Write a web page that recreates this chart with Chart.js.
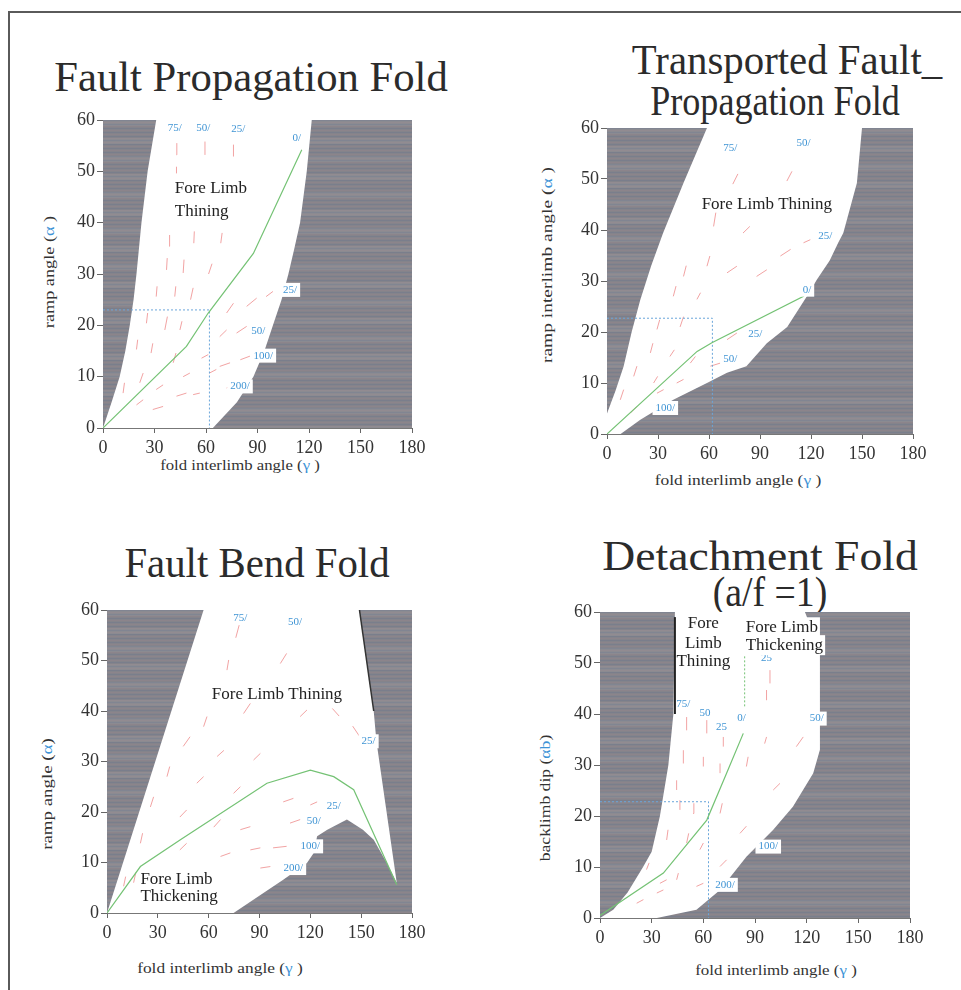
<!DOCTYPE html>
<html>
<head>
<meta charset="utf-8">
<script src="https://cdn.jsdelivr.net/npm/chart.js@4"></script>
<style>
  body { margin: 0; background: #fff; }
  #page { position: relative; width: 961px; height: 990px; overflow: hidden; background: #fff; }
  #frame { position: absolute; left: 8px; top: 11px; width: 1000px; height: 1000px;
           border-top: 2px solid #5a5a5a; border-left: 2px solid #5a5a5a; }
  canvas { position: absolute; }
  .t { position: absolute; font-family: "Liberation Serif", serif; color: #2b2b2b;
       white-space: nowrap; line-height: 1; }
  .big { font-size: 42px; }
  .ax { font-size: 14px; color: #333; }
  .ax span { color: #3d93d6; }
</style>
</head>
<body>
<div id="page">
  <div id="frame"></div>

  <div class="t big" style="left:251px;top:77px" data-w="393">Fault Propagation Fold</div>
  <div class="t big" style="left:787px;top:60px" data-w="310">Transported Fault_</div>
  <div class="t big" style="left:775px;top:101px" data-w="250">Propagation Fold</div>
  <div class="t big" style="left:257px;top:563px" data-w="265">Fault Bend Fold</div>
  <div class="t big" style="left:760px;top:556px" data-w="315">Detachment Fold</div>
  <div class="t big" style="left:770px;top:592px" data-w="114">(a/f =1)</div>

  <div class="t ax" style="left:240px;top:466px" data-w="160">fold interlimb angle (<span>γ</span> )</div>
  <div class="t ax" style="left:738px;top:481px" data-w="167">fold interlimb angle (<span>γ</span> )</div>
  <div class="t ax" style="left:220px;top:969px" data-w="166">fold interlimb angle (<span>γ</span> )</div>
  <div class="t ax" style="left:776px;top:971px" data-w="162">fold interlimb angle (<span>γ</span> )</div>

  <div class="t ax v" style="left:50px;top:272px" data-w="112">ramp angle (<span>α</span> )</div>
  <div class="t ax v" style="left:548px;top:265px" data-w="196">ramp interlimb angle (<span>α</span> )</div>
  <div class="t ax v" style="left:48px;top:794px" data-w="112">ramp angle (<span>α</span>)</div>
  <div class="t ax v" style="left:546px;top:798px" data-w="127">backlimb dip (<span>αb</span>)</div>

  <canvas id="c1"></canvas>
  <canvas id="c2"></canvas>
  <canvas id="c3"></canvas>
  <canvas id="c4"></canvas>
</div>

<script>
// ejes comunes
const xTicks = [0, 30, 60, 90, 120, 150, 180];
const yTicks = [0, 10, 20, 30, 40, 50, 60];

// --- Fault Propagation Fold ---
const fpfWhite = [[0,0],[5,5],[9.7,10],[13,15],[15.6,20],[17.8,25],[19.5,30],[22.4,40],[26,50],[31,60],
  [121.6,60],[118.7,50],[114.8,40],[111.5,35],[108,30],[104,25],[99,20],[94,15],[87.6,10],[78,5],[64,0]];
const fpfGreen = [[0,0],[48.6,15.9],[61.3,22.4],[87.6,34],[115.8,54.2]];
const fpfGuide = [[0,23],[62,23],[62,0]];
const fpfRed = [
  [42.8,53.2,43,55.5],[59.4,53.2,59.4,55.8],[75.9,52.9,76,55.2],[42.8,49.6,42.8,50.9],
  [38.5,35.4,38.8,37.6],[52.9,36,53.2,38.3],[68.6,36,69.4,38],
  [37,30.8,37.4,33.1],[46.7,30.2,47.2,32.8],[61.5,30,63.5,32],
  [31,25.6,31.5,27.6],[41.8,25.6,42.4,27.6],[51,25,52.5,27.3],[72,22.4,76,24.3],[83.7,23.7,89.5,25.3],[95,25.6,99,26.6],
  [25.3,20.4,26,22.4],[36,19.1,37.5,21.7],[44.8,19.1,46,20.8],[68,17.8,72,19.1],[77.8,18.5,83.7,19.8],
  [19.5,15.3,20.2,17.2],[28,14.6,29,16.5],[40.9,12.7,42.5,14.6],[57.4,13.6,61.3,14.3],[68,12,74,12.7],[80,13.3,85.6,14],
  [11.7,6.8,12.5,8.8],[21.4,8.8,23.4,10.7],[31,7.5,35,8.4],[46.7,10,50.6,10.7],[62,10.7,66,11.4],[72,7.8,76,8.4],
  [19.5,4.5,23.4,5.5],[29,3.6,35,4.2],[42.8,6.2,48.6,6.8],[52.5,6.5,56.4,6.8]
];
const fpfTags = [[41.8,58.4,'75/',0],[58.4,58.4,'50/',0],[78.8,58.2,'25/',0],[112.9,56.4,'0/',0],
  [109,26.9,'25/',1],[90.5,18.8,'50/',0],[93.4,14.1,'100/',1],[79.8,8.1,'200/',1]];
const fpfNotes = [[41.8,46.7,'Fore Limb','left',0],[41.8,42.2,'Thining','left',0]];

// --- Transported Fault-Propagation Fold ---
const tfpWhite = [[0,0],[0,4],[5,8.5],[9.8,13.3],[14.5,20],[19.6,26.3],[26,33],[33,39.4],[45,49.2],[58.8,60],[150,60],[147,49.2],
  [139,39.4],[136,37.5],[131,34],[123.5,30.3],[117.6,27],[106,21],[94,17.8],[82,13.3],[70.6,12],
  [58.8,10],[39,6.7],[19.6,2.8],[8,0]];
const tfpGreen = [[0,0],[53,16.2],[61.7,17.9],[115.6,27],[118,28.5]];
const tfpGuide = [[0,22.7],[62,22.7],[62,0]];
const tfpRed = [
  [74,49,77,51],[105.8,49.6,108.8,51.5],[62.7,40.7,64,43.4],[80,39.4,84,40.7],[102,34.9,108,36.2],[115.6,37.5,119.6,38.1],
  [45,30.9,46.6,33],[58.8,32.9,60.5,34.9],[70.6,31.6,76.4,32.9],[88,30.9,94,32.2],[39,27,40.6,29],[52.9,26.4,55,27.7],
  [70.6,18.5,76.4,19.8],[29.4,20.5,31,22.4],[43,21,45,23],[25.5,15.9,27,17.8],[37,15.2,39.6,16.5],[49,13.9,52,15.2],
  [60.8,13.3,66.6,13.9],[15.7,11.3,17.6,13.3],[27.4,10,29.8,11.3],[41,10,45,10.7],[7.8,6.7,9.8,8.7],
  [13.7,4.1,17.6,5.4],[29.4,8,33.3,8.7]
];
const tfpTags = [[72.5,56,'75/',0],[115.6,57,'50/',0],[128.4,38.8,'25/',1],[117.6,28.3,'0/',1],
  [87.2,19.5,'25/',0],[72.5,14.6,'50/',1],[34.3,5.1,'100/',1]];
const tfpNotes = [[94,45,'Fore Limb Thining','center',0]];

// --- Fault Bend Fold ---
const fbfWhite = [[0,0],[57,60],[149,60],[157.4,40],[159,34],[171,6],[165,10],[157.4,14.5],[151,16.5],
  [141.6,18.5],[130,16.5],[124,15.2],[122,11.9],[118,9.9],[104,6.6],[74.7,0]];
const fbfGreen = [[0,0],[19.7,9.2],[43.3,14.5],[94.4,25.7],[120,28.3],[133.8,27],[145.6,24.4],[171,5.6]];
const fbfEdge = [[149,60],[157.4,40]];
const fbfRed = [
  [76,54.5,78,57],[102.3,49.4,106,51.4],[70.8,48.1,71.8,50.1],[57,36.9,59,38.9],[80.6,39.5,84.6,41.5],
  [114,38.9,118,40.2],[133,40.5,137,39],[145,37,149,35],[45,33,49,34.9],[65,31,69,32.2],[86.5,30.3,90.5,31.6],
  [35.4,27,37,29],[53,25.7,57,27],[74.7,23.7,78.7,25],[104,22,110,22.7],[120,21.4,124,22],
  [25.6,21,27.5,23],[43,19,47,20.4],[63,17,67,18.5],[78.7,16.5,84.6,17.1],[108,17.8,114,18.5],
  [19.7,13.8,21,15.8],[43,12.5,47,13.8],[67,11.2,72.8,11.9],[84.6,12.5,90.5,12.9],[98,12.9,106,13.2],
  [9.8,5.3,11,7.2],[15.7,6,17,8],[90.5,8.9,96.4,9.2]
];
const fbfTags = [[78.7,58.3,'75/',0],[111,57.7,'50/',0],[154.4,34,'25/',1],[133.8,21.1,'25/',0],
  [122,18.1,'50/',0],[120,13.2,'100/',1],[110,8.9,'200/',1]];
const fbfNotes = [[100.3,43.2,'Fore Limb Thining','center',0],[19.7,6.6,'Fore Limb','left',0],[19.7,3.3,'Thickening','left',0]];

// --- Detachment Fold (a/f = 1) ---
const dtfWhite = [[0,0],[7.7,1.6],[16,5],[25,10],[30,13],[34.8,20],[39.7,30],[42.6,40],[43.5,60],
  [119,60],[127.7,52.5],[127.7,33],[123.8,28.4],[112,21.8],[100.6,17.3],[85,12],[69.7,5.5],[56,1.6],[33,0]];
const dtfGreen = [[0,0.5],[36.8,8.8],[62,19.2],[73.5,28.4],[83.2,36.2]];
const dtfGreenUp = [[84,41.5],[84,57.7]];
const dtfEdge = [[43.5,40],[43.5,59]];
const dtfGuide = [[0,22.8],[63,22.8],[63,0]];
const dtfRed = [
  [50.3,36.8,50.3,39.4],[62,36.2,62,38.8],[71.6,33.6,71.6,35.5],[98.7,46,98.7,48.6],[96.7,42.7,96.7,44.7],
  [95.6,34.2,96.7,35.5],[114,33.6,118,35.5],[48.4,30.3,48.4,32.9],[60,29.7,60,31.6],[69.7,28.4,69.7,30.3],
  [85,29.7,86,31.6],[100.6,25.1,104.5,26.4],[44.5,25.1,44.5,27],[46.4,21.2,46.4,23.1],[54,20.5,54.5,22.5],
  [69.7,20.5,71,22.5],[81.3,16.6,85,18],[38.7,15.3,39.5,17.3],[50.3,14.7,51.5,16.6],[58,13.4,60,14.7],
  [69.7,10.1,73.5,11.4],[27,9.5,28.5,10.8],[34.8,6.8,38.7,7.5],[44.5,7.5,45.5,8.8],[56,6.2,60,6.8],
  [21.3,2.9,25.2,3.6],[33,4.9,36.8,5.5]
];
const dtfTags = [[48.4,42,'75/',0],[61,40.1,'50',0],[70.6,37.5,'25',0],[82.2,39.1,'0/',0],[96.7,50.9,'25',0],
  [125.8,39.1,'50/',1],[97.7,14,'100/',1],[72.6,6.5,'200/',1]];
const dtfNotes = [[60,57.7,'Fore','center',0],[60,53.8,'Limb','center',0],[60,50.2,'Thining','center',0],
  [84.6,57,'Fore Limb','left',1],[84.6,53.5,'Thickening','left',1]];

// Convertir pares en puntos
function pts(a) {
  return a.map(p => ({ x: p[0], y: p[1] }));
}

// Segmentos sueltos separados por huecos
function dashes(a) {
  const out = [];
  a.forEach(s => {
    out.push({ x: s[0], y: s[1] }, { x: s[2], y: s[3] }, { x: s[2], y: null });
  });
  return out;
}

function serie(data, color, width, extra) {
  return Object.assign({
    type: 'line', data: data, borderColor: color, borderWidth: width,
    pointRadius: 0, fill: false, tension: 0, order: 1
  }, extra || {});
}

// Fondo gris tramado + etiquetas azules + textos
function notasPlugin(tags, notes) {
  return {
    id: 'notas',
    beforeDraw(chart) {
      const { ctx, chartArea: a } = chart;
      ctx.save();
      ctx.fillStyle = '#84848b';
      ctx.fillRect(a.left, a.top, a.width, a.height);
      for (let y = a.top; y < a.bottom; y += 2) {
        const k = Math.floor((y - a.top) / 2);
        ctx.fillStyle = k % 2 ? 'rgba(175,135,140,0.2)' : 'rgba(85,105,145,0.2)';
        ctx.fillRect(a.left, y, a.width, 1);
        if ((y - a.top) % 18 < 6) {
          ctx.fillStyle = 'rgba(255,255,255,0.06)';
          ctx.fillRect(a.left, y, a.width, 2);
        }
      }
      ctx.restore();
    },
    afterDatasetsDraw(chart) {
      const { ctx, chartArea: a } = chart;
      const xs = chart.scales.x, ys = chart.scales.y;
      ctx.save();
      // linea base del eje x
      ctx.strokeStyle = '#777';
      ctx.lineWidth = 1;
      ctx.beginPath();
      ctx.moveTo(a.left, a.bottom + 0.5);
      ctx.lineTo(a.right, a.bottom + 0.5);
      ctx.stroke();

      ctx.textBaseline = 'middle';
      ctx.font = '11px "Liberation Serif"';
      ctx.textAlign = 'center';
      tags.forEach(([x, y, t, box]) => {
        const px = xs.getPixelForValue(x), py = ys.getPixelForValue(y);
        const w = ctx.measureText(t).width;
        if (box) {
          ctx.fillStyle = '#fff';
          ctx.fillRect(px - w / 2 - 3, py - 7, w + 6, 14);
        }
        ctx.fillStyle = '#3f94d4';
        ctx.fillText(t, px, py);
      });

      ctx.font = '17px "Liberation Serif"';
      notes.forEach(([x, y, t, align, box]) => {
        const px = xs.getPixelForValue(x), py = ys.getPixelForValue(y);
        ctx.textAlign = align;
        const w = ctx.measureText(t).width;
        if (box) {
          const x0 = align === 'center' ? px - w / 2 : px;
          ctx.fillStyle = '#fff';
          ctx.fillRect(x0 - 2, py - 10, w + 4, 20);
        }
        ctx.fillStyle = '#222';
        ctx.fillText(t, px, py);
      });
      ctx.restore();
    }
  };
}

const padL = 44, padB = 36, padT = 14, padR = 18;

function panel(id, area, sets, tags, notes) {
  const [l, t, r, b] = area;
  const cv = document.getElementById(id);
  cv.width = r - l + padL + padR;
  cv.height = b - t + padT + padB;
  cv.style.left = (l - padL) + 'px';
  cv.style.top = (t - padT) + 'px';

  const tickFont = { family: 'Liberation Serif', size: 18 };
  new Chart(cv, {
    type: 'line',
    data: { datasets: sets },
    plugins: [notasPlugin(tags, notes)],
    options: {
      responsive: false,
      animation: false,
      events: [],
      layout: { padding: { top: padT, right: padR, left: 0, bottom: 0 } },
      plugins: { legend: { display: false }, tooltip: { enabled: false } },
      scales: {
        x: {
          type: 'linear', min: 0, max: 180,
          afterBuildTicks: s => { s.ticks = xTicks.map(v => ({ value: v })); },
          afterFit: s => { s.height = padB; },
          grid: { display: true, drawOnChartArea: false, drawTicks: true, tickLength: 5, color: '#666' },
          border: { display: false },
          ticks: { font: tickFont, color: '#333', padding: 4, maxRotation: 0, autoSkip: false }
        },
        y: {
          type: 'linear', min: 0, max: 60,
          afterBuildTicks: s => { s.ticks = yTicks.map(v => ({ value: v })); },
          afterFit: s => { s.width = padL; },
          grid: { display: true, drawOnChartArea: false, drawTicks: true, tickLength: 6, color: '#666' },
          border: { display: false },
          ticks: { font: tickFont, color: '#333', padding: 2, autoSkip: false }
        }
      }
    }
  });
}

const blanco = { fill: 'shape', backgroundColor: '#ffffff', order: 9 };
const rojo = '#f2a3a3', verde = '#74c274', azul = '#6aa6da';

panel('c1', [103, 120, 412, 428], [
  serie(pts(fpfWhite), '#ffffff', 0, blanco),
  serie(dashes(fpfRed), rojo, 1, { order: 5 }),
  serie(pts(fpfGuide), azul, 1, { borderDash: [2, 2], order: 4 }),
  serie(pts(fpfGreen), verde, 1.2, { order: 3 })
], fpfTags, fpfNotes);

panel('c2', [607, 128, 913, 434], [
  serie(pts(tfpWhite), '#ffffff', 0, blanco),
  serie(dashes(tfpRed), rojo, 1, { order: 5 }),
  serie(pts(tfpGuide), azul, 1, { borderDash: [2, 2], order: 4 }),
  serie(pts(tfpGreen), verde, 1.2, { order: 3 })
], tfpTags, tfpNotes);

panel('c3', [107, 610, 412, 913], [
  serie(pts(fbfWhite), '#ffffff', 0, blanco),
  serie(dashes(fbfRed), rojo, 1, { order: 5 }),
  serie(pts(fbfEdge), '#333', 1.5, { order: 4 }),
  serie(pts(fbfGreen), verde, 1.2, { order: 3 })
], fbfTags, fbfNotes);

panel('c4', [600, 612, 910, 918], [
  serie(pts(dtfWhite), '#ffffff', 0, blanco),
  serie(dashes(dtfRed), rojo, 1, { order: 5 }),
  serie(pts(dtfGuide), azul, 1, { borderDash: [2, 2], order: 4 }),
  serie(pts(dtfEdge), '#222', 2, { order: 4 }),
  serie(pts(dtfGreenUp), verde, 1, { borderDash: [2, 2], order: 3 }),
  serie(pts(dtfGreen), verde, 1.2, { order: 3 })
], dtfTags, dtfNotes);

// Ajustar el ancho de los textos HTML al original
document.querySelectorAll('[data-w]').forEach(el => {
  const s = Number(el.dataset.w) / el.offsetWidth;
  const base = el.classList.contains('v') ? 'translate(-50%,-50%) rotate(-90deg)' : 'translate(-50%,-50%)';
  el.style.transform = base + ' scaleX(' + s.toFixed(3) + ')';
});
</script>
</body>
</html>
